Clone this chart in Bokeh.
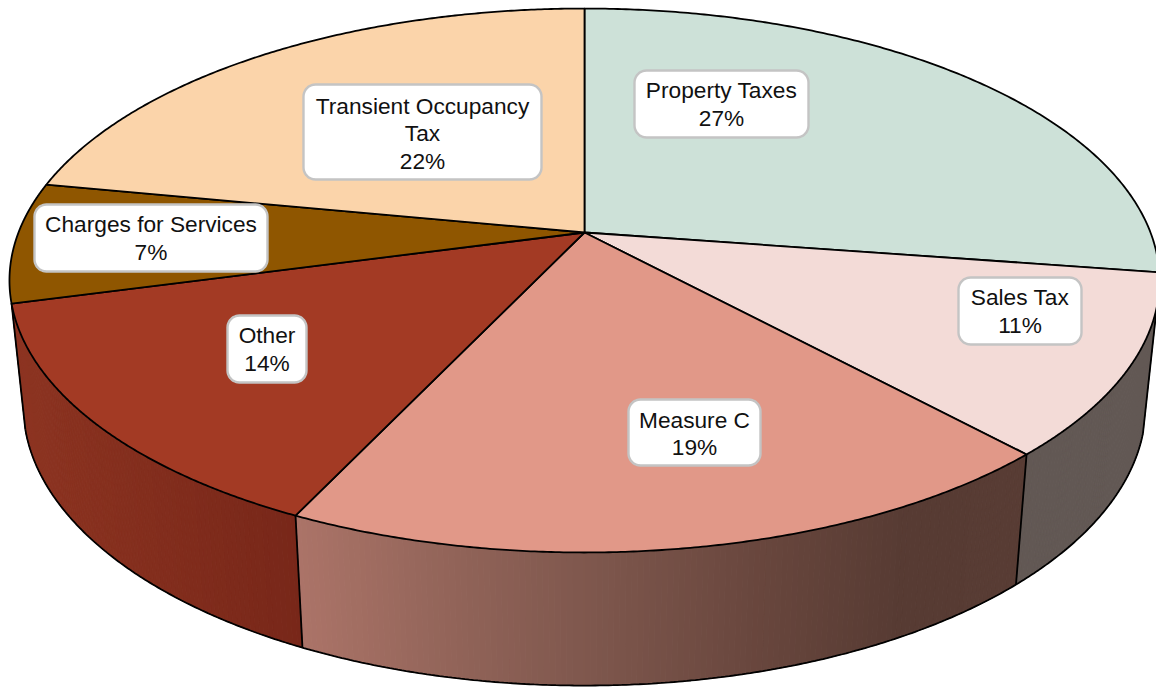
import numpy as np
from bokeh.plotting import figure
from bokeh.models import Range1d
from bokeh.core.properties import value
from bokeh.embed import file_html
from bokeh.resources import INLINE

# data
categories = ["Property Taxes", "Sales Tax", "Measure C", "Other", "Charges for Services", "Transient Occupancy\nTax"]
shares = [27.35, 10.75, 18.96, 13.79, 7.15, 22.0]

# styles
top_colors = ["#CDE1D8", "#F3DBD7", "#E19888", "#A33A24", "#8F5600", "#FBD4AA"]
wall_stops = {
    1: ([1017, 1156], [(98, 88, 84), (98, 88, 84)]),
    2: ([296, 450, 600, 760, 900, 1030],
        [(172, 116, 104), (146, 100, 89), (125, 86, 76), (104, 70, 61), (87, 59, 51), (88, 60, 52)]),
    3: ([10, 300], [(141, 52, 33), (120, 39, 25)]),
}
# layout of label boxes (left, right, top, bottom) in page pixels, and text nudges
boxes = [(634, 808, 70, 137), (958, 1081, 277, 344), (628, 760, 399, 465),
         (227, 306, 315, 382), (34, 267, 204, 271), (303, 541, 84, 179)]
nudge_y = [0, 0, 1, 0, 0, 1.5]

# projection of the disc
CX, CY, A, B, K = 584.0, 232.0, 566.0, 263.5, 0.1765
SHRINK_X, SHRINK_Y, CY_LOW = 0.976, 1.03, 355.5
RIGHT_SIL = np.radians(105.7)
EDGE = 1.8


def rim(theta, low=False):
    u, v = np.sin(theta), np.cos(theta)
    d = 1 + K * v
    x, y = A * u / d, -B * v / d
    if low:
        return CX + SHRINK_X * x, CY_LOW + SHRINK_Y * y
    return CX + x, CY + y


edges = np.radians(np.concatenate([[0], np.cumsum(shares)]) * 3.6)

p = figure(width=1156, height=688, output_backend="svg", toolbar_location=None,
           x_range=Range1d(0, 1156), y_range=Range1d(688, 0), min_border=0,
           background_fill_color="white", border_fill_color="white")
p.axis.visible = False
p.grid.visible = False
p.outline_line_color = None

# side wall, drawn as narrow strips carrying the horizontal gradient
lo_ends = {1: (RIGHT_SIL, edges[2]), 2: (edges[2], edges[3]), 3: (edges[3], edges[4])}
for i, (a, b) in lo_ends.items():
    ts = np.linspace(a, b, int(np.degrees(b - a) * 2) + 2)
    xs, ys, cols = [], [], []
    stops_x, stops_c = wall_stops[i]
    for t0, t1 in zip(ts[:-1], ts[1:]):
        x0, y0 = rim(t0)
        x1, y1 = rim(t1)
        x2, y2 = rim(t1, True)
        x3, y3 = rim(t0, True)
        xs.append([x0, x1, x2, x3])
        ys.append([y0, y1, y2, y3])
        mid = (x0 + x1 + x2 + x3) / 4
        c = [int(round(np.interp(mid, stops_x, [s[k] for s in stops_c]))) for k in range(3)]
        cols.append("#%02x%02x%02x" % tuple(c))
    p.patches(xs, ys, fill_color=cols, line_color=cols, line_width=1)

# wall outlines
wt = np.linspace(RIGHT_SIL, edges[4], 400)
bx, by = rim(wt, True)
p.line(bx, by, line_color="black", line_width=EDGE)
for t in [RIGHT_SIL, edges[2], edges[3], edges[4]]:
    x0, y0 = rim(t)
    x1, y1 = rim(t, True)
    p.line([x0, x1], [y0, y1], line_color="black", line_width=EDGE)

# top face
for i in range(len(shares)):
    t = np.linspace(edges[i], edges[i + 1], 200)
    x, y = rim(t)
    p.patch(np.r_[CX, x], np.r_[CY, y], fill_color=top_colors[i],
            line_color="black", line_width=EDGE, line_join="round")


def rounded(l, r, t, b, rad=12.0):
    arcs = [(r - rad, t + rad, -90, 0), (r - rad, b - rad, 0, 90),
            (l + rad, b - rad, 90, 180), (l + rad, t + rad, 180, 270)]
    xs, ys = [], []
    for cx, cy, a0, a1 in arcs:
        ang = np.radians(np.linspace(a0, a1, 10))
        xs.extend(cx + rad * np.cos(ang))
        ys.extend(cy + rad * np.sin(ang))
    return xs, ys


# labels
for name, share, (l, r, t, b), dy in zip(categories, shares, boxes, nudge_y):
    xs, ys = rounded(l, r, t, b)
    p.patch(xs, ys, fill_color="white", line_color="#C4C4C4", line_width=2.4)
    p.text([(l + r) / 2], [(t + b) / 2 + dy], text=[f"{name}\n{share:.0f}%"], text_align="center",
           text_baseline="middle", text_font=value("Liberation Sans"), text_font_size="22.7px",
           text_color="#111111", text_line_height=1.04)

open("out.html", "w").write(file_html(p, INLINE))
